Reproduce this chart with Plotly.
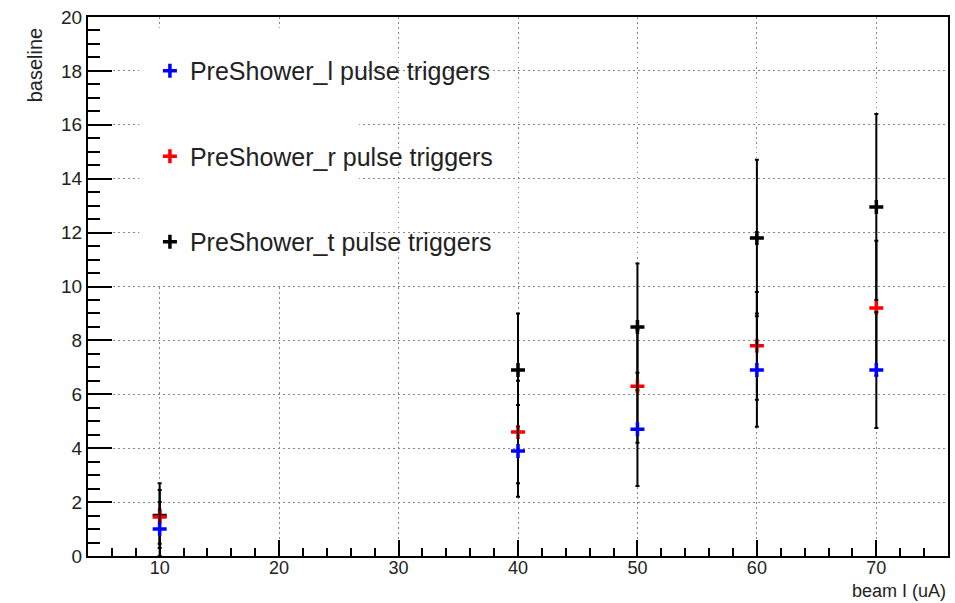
import plotly.graph_objects as go

beam = [10, 40, 50, 60, 70]

left_vals = [1.0, 3.9, 4.7, 6.9, 6.9]
left_err = [1.0, 1.7, 2.1, 2.1, 2.15]

right_vals = [1.45, 4.6, 6.3, 7.8, 9.2]
right_err = [1.0, 1.9, 2.1, 2.0, 2.5]

total_vals = [1.5, 6.9, 8.5, 11.8, 12.95]
total_err = [1.2, 2.1, 2.35, 2.9, 3.45]

names = ["PreShower_l pulse triggers", "PreShower_r pulse triggers", "PreShower_t pulse triggers"]
colors = ["#0000ff", "#ff0000", "#000000"]

x_ticks = [10, 20, 30, 40, 50, 60, 70]
y_ticks = list(range(0, 21, 2))

FONT = "Liberation Sans, Arial, sans-serif"

fig = go.Figure()

series = [(total_vals, total_err, 2), (right_vals, right_err, 1), (left_vals, left_err, 0)]
for vals, errs, idx in series:
    fig.add_trace(go.Scatter(
        x=beam, y=vals, mode="markers", name=names[idx],
        legendrank=idx + 1, legendgroup=f"g{idx}",
        marker=dict(symbol="cross-thin", size=10, color=colors[idx],
                    line=dict(color=colors[idx], width=3.5)),
        error_y=dict(type="data", array=errs, visible=True, color="black",
                     thickness=2, width=2),
    ))

# white legend box covering the grid
fig.add_shape(type="rect", xref="x", yref="y", x0=8.3, x1=26.7, y0=10.1, y1=19.6,
              fillcolor="white", line=dict(width=0), layer="between")

axis_common = dict(showline=True, linecolor="black", linewidth=2, mirror=True,
                   ticks="inside", tickcolor="black", zeroline=False,
                   showgrid=True, gridcolor="#888888", gridwidth=1, griddash="1.5px,3.5px")

fig.update_xaxes(range=[4, 76], tickvals=x_ticks, ticklen=16, tickwidth=1.5,
                 ticklabelstandoff=-6,
                 tickfont=dict(family=FONT, size=18, color="#222"),
                 minor=dict(dtick=2, tick0=0, ticklen=8, ticks="inside", tickcolor="black", showgrid=False),
                 **axis_common)
fig.update_yaxes(range=[0, 20], tickvals=y_ticks, ticklen=24, tickwidth=1.5,
                 tickfont=dict(family=FONT, size=19, color="#222"),
                 minor=dict(dtick=0.5, tick0=0, ticklen=12, ticks="inside", tickcolor="black", showgrid=False),
                 **axis_common)

fig.add_annotation(text="baseline", xref="paper", yref="paper", x=-0.062, y=0.985,
                   xanchor="center", yanchor="top", textangle=-90, showarrow=False,
                   font=dict(family=FONT, size=20, color="#222"))
fig.add_annotation(text="beam I (uA)", xref="paper", yref="paper", x=1.0, y=-0.0875,
                   xanchor="right", yanchor="bottom", showarrow=False,
                   font=dict(family=FONT, size=18, color="#222"))

fig.update_layout(
    width=955, height=603,
    margin=dict(l=88, r=5, t=17, b=47),
    paper_bgcolor="white", plot_bgcolor="white",
    showlegend=True,
    legend=dict(x=0.072, y=0.9425, xanchor="left", yanchor="top",
                bgcolor="rgba(0,0,0,0)", borderwidth=0,
                tracegroupgap=50, font=dict(family=FONT, size=25, color="#222"),
                itemwidth=30),
)

fig.write_html("out.html")
